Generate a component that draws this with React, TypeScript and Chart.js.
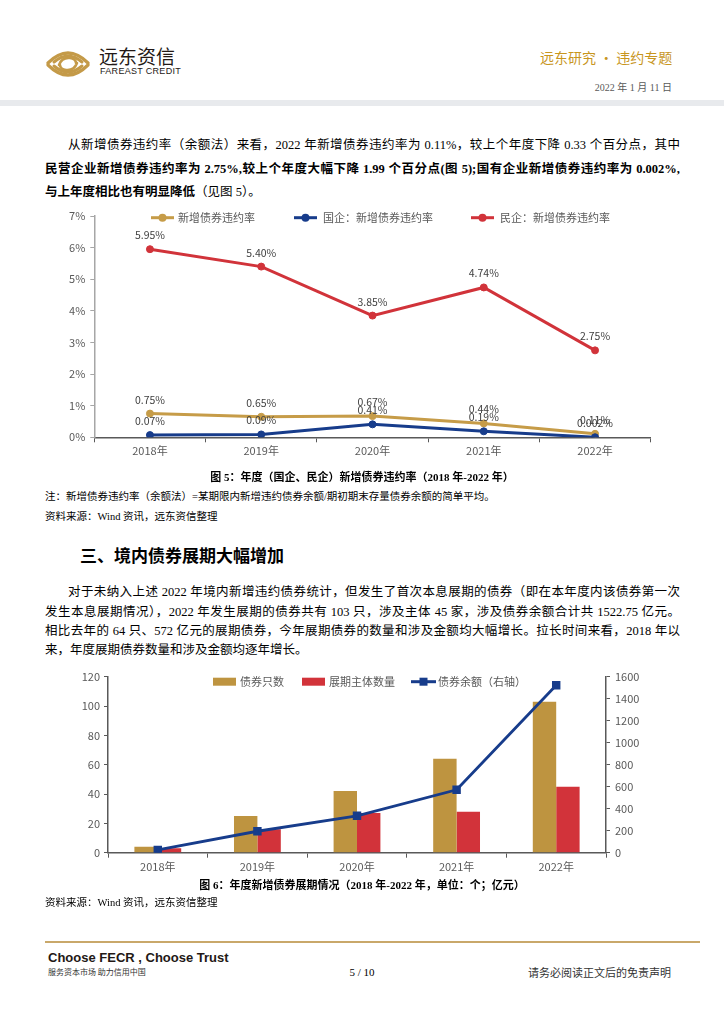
import React, { useEffect, useRef } from 'react';
import { Chart, registerables } from 'chart.js';

Chart.register(...registerables);

// ---------- data ----------
const years = ['2018年', '2019年', '2020年', '2021年', '2022年'];
const totalRate = [0.75, 0.65, 0.67, 0.44, 0.11];
const soeRate = [0.07, 0.09, 0.41, 0.19, 0.002];
const privRate = [5.95, 5.4, 3.85, 4.74, 2.75];
const rateTicks = [0, 1, 2, 3, 4, 5, 6, 7];

const bondCount = [4, 25, 42, 64, 103];
const issuerCount = [3, 16, 27, 28, 45];
const bondBalance = [25, 195, 335, 572, 1522.75];
const countTicks = [0, 20, 40, 60, 80, 100, 120];
const balanceTicks = [0, 200, 400, 600, 800, 1000, 1200, 1400, 1600];

const legend1 = ['新增债券违约率', '国企：新增债券违约率', '民企：新增债券违约率'];
const legend2 = ['债券只数', '展期主体数量', '债券余额（右轴）'];

// ---------- styles ----------
const GOLD = '#C69C48';
const BLUE = '#173C8B';
const RED = '#D1333A';
const BAR_GOLD = '#BE9440';
const BAR_RED = '#D2333A';
const TXT = '#595959';
const CF = '"Noto Sans CJK SC", "Noto Sans", sans-serif';
const BODY = '"Liberation Serif", "Noto Sans CJK SC", serif';

function fmtRate(v: number) {
  return (v < 0.01 ? v.toFixed(3) : v.toFixed(2)) + '%';
}

function makeValueLabels(offset: number) {
  return {
    id: 'valueLabels',
    afterDatasetsDraw(chart: any) {
      const ctx = chart.ctx;
      ctx.save();
      ctx.font = `10.5px ${CF}`;
      ctx.fillStyle = '#404040';
      ctx.textAlign = 'center';
      ctx.textBaseline = 'middle';
      chart.data.datasets.forEach((ds: any, di: number) => {
        const meta = chart.getDatasetMeta(di);
        meta.data.forEach((el: any, i: number) => {
          ctx.fillText(fmtRate(ds.data[i]), el.x, el.y - offset);
        });
      });
      ctx.restore();
    },
  };
}

type LegItem = { text: string; color: string; kind: 'lineCircle' | 'lineRect' | 'box'; x: number; tx: number };

function makeLegend(items: LegItem[], y: number) {
  return {
    id: 'customLegend',
    afterDraw(chart: any) {
      const ctx = chart.ctx;
      ctx.save();
      items.forEach((it) => {
        ctx.fillStyle = it.color;
        ctx.strokeStyle = it.color;
        if (it.kind === 'box') {
          ctx.fillRect(it.x, y - 4, 23, 8);
        } else {
          const w = it.kind === 'lineRect' ? 25 : 23;
          ctx.lineWidth = 3;
          ctx.beginPath();
          ctx.moveTo(it.x, y);
          ctx.lineTo(it.x + w, y);
          ctx.stroke();
          if (it.kind === 'lineCircle') {
            ctx.beginPath();
            ctx.arc(it.x + w / 2, y, 4, 0, Math.PI * 2);
            ctx.fill();
          } else {
            ctx.fillRect(it.x + w / 2 - 4, y - 4, 8, 8);
          }
        }
        ctx.fillStyle = TXT;
        ctx.font = `11px ${CF}`;
        ctx.textAlign = 'left';
        ctx.textBaseline = 'middle';
        ctx.fillText(it.text, it.tx, y);
      });
      ctx.restore();
    },
  };
}

function RateChart() {
  const ref = useRef<HTMLCanvasElement>(null);
  useEffect(() => {
    const mk = (label: string, data: number[], color: string, order: number) => ({
      label,
      data,
      borderColor: color,
      backgroundColor: color,
      pointBackgroundColor: color,
      pointBorderColor: color,
      borderWidth: 3,
      pointRadius: 3.5,
      pointBorderWidth: 1,
      tension: 0,
      order,
    });
    const chart = new Chart(ref.current!, {
      type: 'line',
      data: {
        labels: years,
        datasets: [
          mk(legend1[0], totalRate, GOLD, 3),
          mk(legend1[1], soeRate, BLUE, 2),
          mk(legend1[2], privRate, RED, 1),
        ],
      },
      options: {
        animation: false,
        responsive: false,
        maintainAspectRatio: false,
        layout: { padding: { left: 0, right: 29.3, top: 16, bottom: 0 } },
        plugins: { legend: { display: false }, tooltip: { enabled: false } },
        scales: {
          x: {
            offset: true,
            grid: { display: true, drawOnChartArea: false, offset: true, tickLength: 5, color: '#595959' },
            border: { color: '#595959', width: 1.5 },
            ticks: { color: TXT, font: { family: CF, size: 11 }, padding: 2 },
            afterFit: (s: any) => { s.height = 32.7; },
          },
          y: {
            min: 0,
            max: 7,
            afterBuildTicks: (s: any) => { s.ticks = rateTicks.map((v) => ({ value: v })); },
            ticks: { color: TXT, font: { family: CF, size: 11 }, padding: 5, callback: (v: any) => v + '%' },
            grid: { display: true, drawOnChartArea: false, tickLength: 4, color: '#A6A6A6' },
            border: { color: '#A6A6A6', width: 1.5 },
            afterFit: (s: any) => { s.width = 54.3; },
          },
        },
      } as any,
      plugins: [
        makeValueLabels(14),
        makeLegend(
          [
            { text: legend1[0], color: GOLD, kind: 'lineCircle', x: 111, tx: 138 },
            { text: legend1[1], color: BLUE, kind: 'lineCircle', x: 254, tx: 283 },
            { text: legend1[2], color: RED, kind: 'lineCircle', x: 431, tx: 460 },
          ],
          17.7
        ),
      ] as any,
    });
    return () => chart.destroy();
  }, []);
  return <canvas ref={ref} width={640} height={270} style={{ position: 'absolute', left: 40, top: 200 }} />;
}

function ExtensionChart() {
  const ref = useRef<HTMLCanvasElement>(null);
  useEffect(() => {
    const chart = new Chart(ref.current!, {
      type: 'bar',
      data: {
        labels: years,
        datasets: [
          {
            type: 'line',
            label: legend2[2],
            data: bondBalance,
            yAxisID: 'y1',
            borderColor: BLUE,
            backgroundColor: BLUE,
            pointBackgroundColor: BLUE,
            pointBorderColor: BLUE,
            pointStyle: 'rect',
            pointRadius: 4,
            borderWidth: 2.8,
            order: 0,
          },
          {
            type: 'bar',
            label: legend2[0],
            data: bondCount,
            yAxisID: 'y',
            backgroundColor: BAR_GOLD,
            categoryPercentage: 0.47,
            barPercentage: 1,
            order: 1,
          },
          {
            type: 'bar',
            label: legend2[1],
            data: issuerCount,
            yAxisID: 'y',
            backgroundColor: BAR_RED,
            categoryPercentage: 0.47,
            barPercentage: 1,
            order: 1,
          },
        ],
      } as any,
      options: {
        animation: false,
        responsive: false,
        maintainAspectRatio: false,
        layout: { padding: { left: 0, right: 24, top: 11.7, bottom: 0 } },
        plugins: { legend: { display: false }, tooltip: { enabled: false } },
        scales: {
          x: {
            offset: true,
            grid: { display: true, drawOnChartArea: false, offset: true, tickLength: 5, color: '#595959' },
            border: { color: '#595959', width: 1.5 },
            ticks: { color: TXT, font: { family: CF, size: 11 }, padding: 3 },
            afterFit: (s: any) => { s.height = 27.3; },
          },
          y: {
            position: 'left',
            min: 0,
            max: 120,
            afterBuildTicks: (s: any) => { s.ticks = countTicks.map((v) => ({ value: v })); },
            ticks: { color: TXT, font: { family: CF, size: 11 }, padding: 4, callback: (v: any) => String(v) },
            grid: { display: true, drawOnChartArea: false, tickLength: 4, color: '#595959' },
            border: { color: '#595959', width: 1.5 },
            afterFit: (s: any) => { s.width = 68; },
          },
          y1: {
            position: 'right',
            min: 0,
            max: 1600,
            afterBuildTicks: (s: any) => { s.ticks = balanceTicks.map((v) => ({ value: v })); },
            ticks: { color: TXT, font: { family: CF, size: 11 }, padding: 5, callback: (v: any) => String(v) },
            grid: { display: true, drawOnChartArea: false, tickLength: 4, color: '#595959' },
            border: { color: '#595959', width: 1.5 },
            afterFit: (s: any) => { s.width = 50; },
          },
        },
      } as any,
      plugins: [
        makeLegend(
          [
            { text: legend2[0], color: BAR_GOLD, kind: 'box', x: 173, tx: 200 },
            { text: legend2[1], color: BAR_RED, kind: 'box', x: 262, tx: 289 },
            { text: legend2[2], color: BLUE, kind: 'lineRect', x: 371, tx: 398 },
          ],
          16.7
        ),
      ] as any,
    });
    return () => chart.destroy();
  }, []);
  return <canvas ref={ref} width={640} height={215} style={{ position: 'absolute', left: 40, top: 665 }} />;
}

function TextLine(props: {
  y: number;
  left: number;
  right?: number;
  size: number;
  bold?: boolean;
  justify?: boolean;
  center?: boolean;
  alignRight?: boolean;
  color?: string;
  family?: string;
  children: React.ReactNode;
}) {
  const { y, left, right, size, bold, justify, center, alignRight, color, family, children } = props;
  const lh = size + 6;
  const align = justify ? 'justify' : center ? 'center' : alignRight ? 'right' : 'left';
  return (
    <div
      style={{
        position: 'absolute',
        top: y - lh / 2,
        left,
        width: right !== undefined ? right - left : undefined,
        fontSize: size,
        lineHeight: `${lh}px`,
        fontWeight: bold ? 700 : 400,
        textAlign: align,
        textAlignLast: align,
        color: color || '#000',
        fontFamily: family || BODY,
        whiteSpace: justify ? 'normal' : 'nowrap',
      } as any}
    >
      {children}
    </div>
  );
}

function Logo() {
  return (
    <svg width={44} height={36} viewBox="0 0 44 36" style={{ position: 'absolute', left: 46, top: 46 }}>
      <g fill="none" stroke="#C49A48" strokeLinecap="round">
        <path d="M2 17 Q22 -3 42 17" strokeWidth={3.2} />
        <path d="M8 16 Q22 4 36 16" strokeWidth={3} />
        <path d="M2 19 Q22 39 42 19" strokeWidth={3.2} />
        <path d="M8 20 Q22 32 36 20" strokeWidth={3} />
        <path d="M13 19 Q16 11 24 12 Q30 13 30 17 M31 17 Q28 25 20 24 Q14 23 14 19" strokeWidth={2.6} />
      </g>
    </svg>
  );
}

export default function App() {
  return (
    <div style={{ position: 'absolute', left: 0, top: 0, width: 724, height: 1024, background: '#fff', overflow: 'hidden' }}>
      {/* header */}
      <Logo />
      <TextLine y={55} left={99} size={19} family={CF} color="#231815">远东资信</TextLine>
      <TextLine y={71} left={100} size={9} family={'"Liberation Sans", sans-serif'} color="#231815">
        <span style={{ letterSpacing: 0.3 }}>FAREAST CREDIT</span>
      </TextLine>
      <TextLine y={57} left={540} right={672} size={14} family={CF} color="#C8961E" center>
        远东研究 • 违约专题
      </TextLine>
      <TextLine y={88} left={540} right={672} size={10} color={TXT} alignRight>
        2022 年 1 月 11 日
      </TextLine>
      <div style={{ position: 'absolute', left: 0, top: 100, width: 724, height: 6, background: '#E8EAED' }} />

      {/* paragraph 1 */}
      <TextLine y={145} left={68} right={680} size={12.5} justify>
        从新增债券违约率（余额法）来看，2022 年新增债券违约率为 0.11%，较上个年度下降 0.33 个百分点，其中
      </TextLine>
      <TextLine y={169} left={45} right={680} size={12.5} justify bold>
        民营企业新增债券违约率为 2.75%,较上个年度大幅下降 1.99 个百分点(图 5);国有企业新增债券违约率为 0.002%,
      </TextLine>
      <TextLine y={192} left={45} size={12.5}>
        <b>与上年度相比也有明显降低</b>（见图 5）。
      </TextLine>

      <RateChart />

      <TextLine y={477} left={0} right={724} size={11} bold center>
        图 5：年度（国企、民企）新增债券违约率（2018 年-2022 年）
      </TextLine>
      <TextLine y={497} left={45} size={10.5}>
        注：新增债券违约率（余额法）=某期限内新增违约债券余额/期初期末存量债券余额的简单平均。
      </TextLine>
      <TextLine y={517} left={45} size={10.5}>
        资料来源：Wind 资讯，远东资信整理
      </TextLine>

      <TextLine y={556} left={80} size={17} bold>
        三、境内债券展期大幅增加
      </TextLine>

      <TextLine y={592} left={68} right={680} size={12.5} justify>
        对于未纳入上述 2022 年境内新增违约债券统计，但发生了首次本息展期的债券（即在本年度内该债券第一次
      </TextLine>
      <TextLine y={612} left={45} right={680} size={12.5} justify>
        发生本息展期情况），2022 年发生展期的债券共有 103 只，涉及主体 45 家，涉及债券余额合计共 1522.75 亿元。
      </TextLine>
      <TextLine y={631} left={45} right={680} size={12.5} justify>
        相比去年的 64 只、572 亿元的展期债券，今年展期债券的数量和涉及金额均大幅增长。拉长时间来看，2018 年以
      </TextLine>
      <TextLine y={650} left={45} size={12.5}>
        来，年度展期债券数量和涉及金额均逐年增长。
      </TextLine>

      <ExtensionChart />

      <TextLine y={885} left={0} right={724} size={11} bold center>
        图 6：年度新增债券展期情况（2018 年-2022 年，单位：个；亿元）
      </TextLine>
      <TextLine y={903} left={45} size={10.5}>
        资料来源：Wind 资讯，远东资信整理
      </TextLine>

      {/* footer */}
      <div style={{ position: 'absolute', left: 45, top: 941, width: 655, height: 2, background: '#C9A86A' }} />
      <TextLine y={957} left={48} size={13} bold family={'"Liberation Sans", sans-serif'} color="#231815">
        Choose FECR , Choose Trust
      </TextLine>
      <TextLine y={972} left={48} size={8} family={CF} color="#333">
        服务资本市场 助力信用中国
      </TextLine>
      <TextLine y={972} left={300} right={424} size={11} center>
        5 / 10
      </TextLine>
      <TextLine y={972} left={528} size={11} family={CF} color="#333">
        请务必阅读正文后的免责声明
      </TextLine>
    </div>
  );
}
